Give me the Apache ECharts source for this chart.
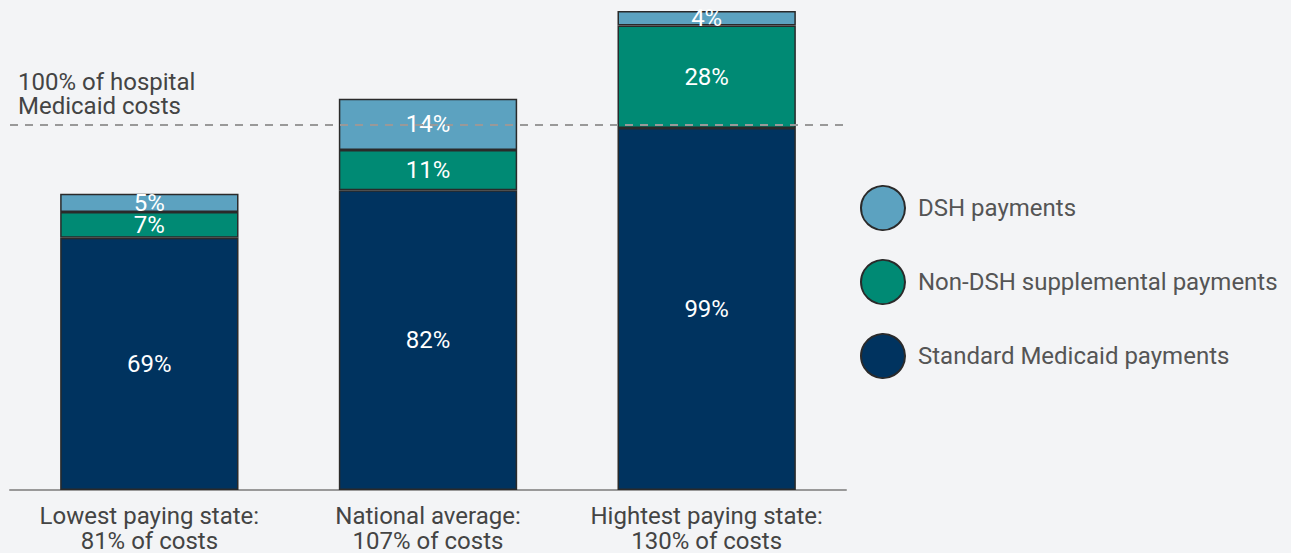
<!DOCTYPE html>
<html>
<head>
<meta charset="utf-8">
<script src="https://cdn.jsdelivr.net/npm/echarts@6/dist/echarts.min.js"></script>
<style>
  html, body { margin: 0; padding: 0; background: #f3f4f6; }
  #chart { width: 1291px; height: 553px; }
</style>
</head>
<body>
<div id="chart"></div>
<script>
const categories = [
  'Lowest paying state:\n81% of costs',
  'National average:\n107% of costs',
  'Hightest paying state:\n130% of costs',
]
const standardValues = [69, 82, 99]
const nonDshValues = [7, 11, 28]
const dshValues = [5, 14, 4]
const referenceLevel = 100

const font = "Roboto, 'Noto Sans', sans-serif"

const barLabel = {
  show: true,
  position: 'inside',
  color: '#fff',
  fontSize: 24,
  fontFamily: font,
  formatter: '{c}%',
}
const border = { borderColor: '#2a2a2a', borderWidth: 1.5 }

const chart = echarts.init(document.getElementById('chart'), null, { renderer: 'svg' })
chart.setOption({
  backgroundColor: '#f3f4f6',
  animation: false,
  grid: { left: 10, right: 445, top: 0, bottom: 60 },
  legend: {
    orient: 'vertical',
    left: 855,
    top: 180,
    icon: 'circle',
    itemWidth: 44,
    itemHeight: 44,
    itemGap: 28,
    textStyle: { fontSize: 24, color: '#555', fontFamily: font, padding: [0, 0, 0, 8] },
    data: ['DSH payments', 'Non-DSH supplemental payments', 'Standard Medicaid payments'],
  },
  xAxis: {
    type: 'category',
    data: categories,
    axisLine: { lineStyle: { color: '#999', width: 2 } },
    axisTick: { show: false },
    axisLabel: {
      interval: 0,
      hideOverlap: false,
      fontSize: 24,
      lineHeight: 25,
      color: '#444',
      fontFamily: font,
      margin: 13,
    },
  },
  yAxis: {
    type: 'value',
    min: 0,
    max: 134,
    show: false,
    splitLine: { show: false },
  },
  graphic: [
    {
      type: 'text',
      left: 18,
      top: 70,
      style: {
        text: '100% of hospital\nMedicaid costs',
        fontSize: 24,
        lineHeight: 24,
        fill: '#444',
        fontFamily: font,
      },
    },
  ],
  series: [
    {
      name: 'Standard Medicaid payments',
      type: 'bar',
      stack: 'total',
      barWidth: '64%',
      data: standardValues,
      itemStyle: { color: '#00335f', ...border },
      label: barLabel,
    },
    {
      name: 'Non-DSH supplemental payments',
      type: 'bar',
      stack: 'total',
      data: nonDshValues,
      itemStyle: { color: '#008a74', ...border },
      label: barLabel,
    },
    {
      name: 'DSH payments',
      type: 'bar',
      stack: 'total',
      data: dshValues,
      itemStyle: { color: '#5ca2c0', ...border },
      label: barLabel,
      markLine: {
        silent: true,
        symbol: 'none',
        z: 10,
        label: { show: false },
        lineStyle: { color: '#999', type: [8, 7], width: 2 },
        data: [{ yAxis: referenceLevel }],
      },
    },
  ],
})
</script>
</body>
</html>
